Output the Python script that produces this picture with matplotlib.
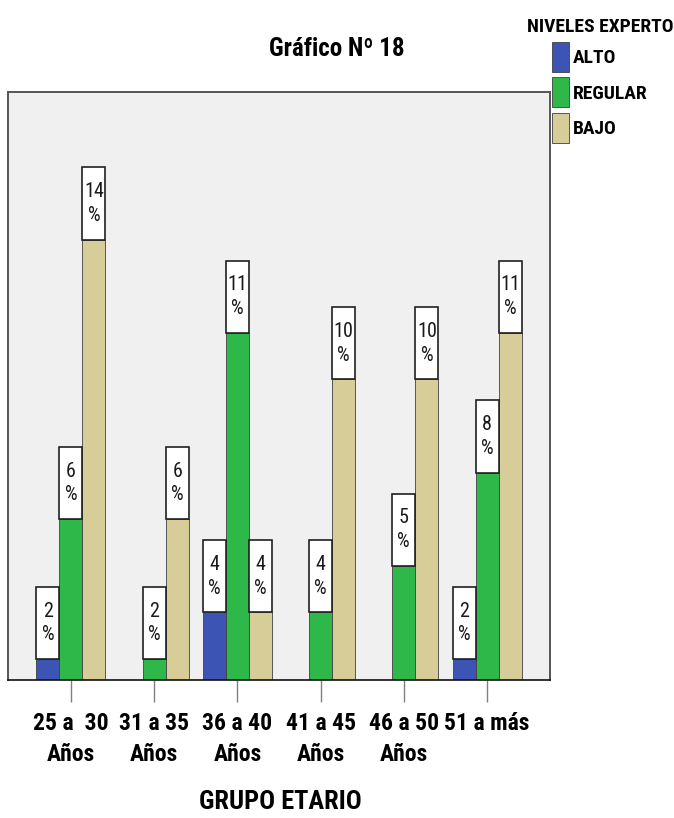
import numpy as np
import matplotlib
matplotlib.use("Agg")
import matplotlib.pyplot as plt
from matplotlib.patches import Rectangle, Patch

# Data (bar heights are counts, labels are the printed %)
grupos = ['25 a  30\nAños', '31 a 35\nAños', '36 a 40\nAños',
          '41 a 45\nAños', '46 a 50\nAños', '51 a más']
niveles = ['ALTO', 'REGULAR', 'BAJO']
alto = [1, 0, 2, 0, 0, 1]
regular = [4, 1, 8, 2, 3, 5]
bajo = [10, 4, 2, 7, 7, 8]
alto_pct = ['2', '', '4', '', '', '2']
regular_pct = ['6', '2', '11', '4', '5', '8']
bajo_pct = ['14', '6', '4', '10', '10', '11']

colores = ['#3c55b5', '#2eb84a', '#d6cd98']
narrow = ['Roboto Condensed', 'Barlow Condensed', 'DejaVu Sans']

fig = plt.figure(figsize=(6.74, 8.18), dpi=100)
ax = fig.add_axes([8 / 674, 138 / 818, 542 / 674, 588 / 818])
ax.set_facecolor('#f0f0f0')

x = np.arange(len(grupos))
w = 0.2765
ymin = 0.55
box_h = 1.55

series = [(alto, alto_pct), (regular, regular_pct), (bajo, bajo_pct)]
for i, (vals, pcts) in enumerate(series):
    offs = (i - 1) * w
    heights = [v - ymin if v > 0 else 0 for v in vals]
    ax.bar(x + offs, heights, w, bottom=ymin, color=colores[i],
           edgecolor='#404040', linewidth=0.6, zorder=2)
    for xi, v, p in zip(x, vals, pcts):
        if v <= 0:
            continue
        ax.add_patch(Rectangle((xi + offs - w / 2, v), w, box_h,
                               facecolor='white', edgecolor='#202020',
                               linewidth=1.2, zorder=3))
        ax.text(xi + offs, v + box_h / 2, p + '\n%', ha='center', va='center',
                fontsize=14.5, family=narrow, linespacing=1.3,
                color='#1a1a1a', zorder=4)

ax.set_xlim(-0.757, 5.757)
ax.set_ylim(ymin, ymin + 588 / 46.6)
ax.set_yticks([])
ax.set_xticks(x)
ax.set_xticklabels(grupos, fontsize=17, fontweight='bold', family=narrow,
                   linespacing=1.45)
ax.tick_params(axis='x', length=16, width=1, color='#808080', pad=7)

for s in ['left', 'top', 'right']:
    ax.spines[s].set_color('#555555')
    ax.spines[s].set_linewidth(1.4)
ax.spines['bottom'].set_color('#111111')
ax.spines['bottom'].set_linewidth(1.2)

fig.text(280 / 674, 1 - 802 / 818, 'GRUPO ETARIO', ha='center', va='center',
         fontsize=19, fontweight='bold', family=narrow)
fig.text(337 / 674, 1 - 49 / 818, 'Gráfico Nº 18', ha='center', va='center',
         fontsize=18, fontweight='bold', family=narrow)

handles = [Patch(facecolor=c, edgecolor='#404040', linewidth=0.6)
           for c in colores]
leg = fig.legend(handles, niveles, loc='upper center',
                 bbox_to_anchor=(600 / 674, 1 - 8 / 818), frameon=False,
                 title='NIVELES EXPERTO',
                 prop={'family': narrow, 'weight': 'bold', 'size': 14},
                 title_fontproperties={'family': narrow, 'weight': 'bold',
                                       'size': 14},
                 handlelength=0.85, handleheight=2.0, handletextpad=0.2,
                 labelspacing=0.3, borderpad=0, alignment='center')

fig.savefig('out.png', dpi=100)
